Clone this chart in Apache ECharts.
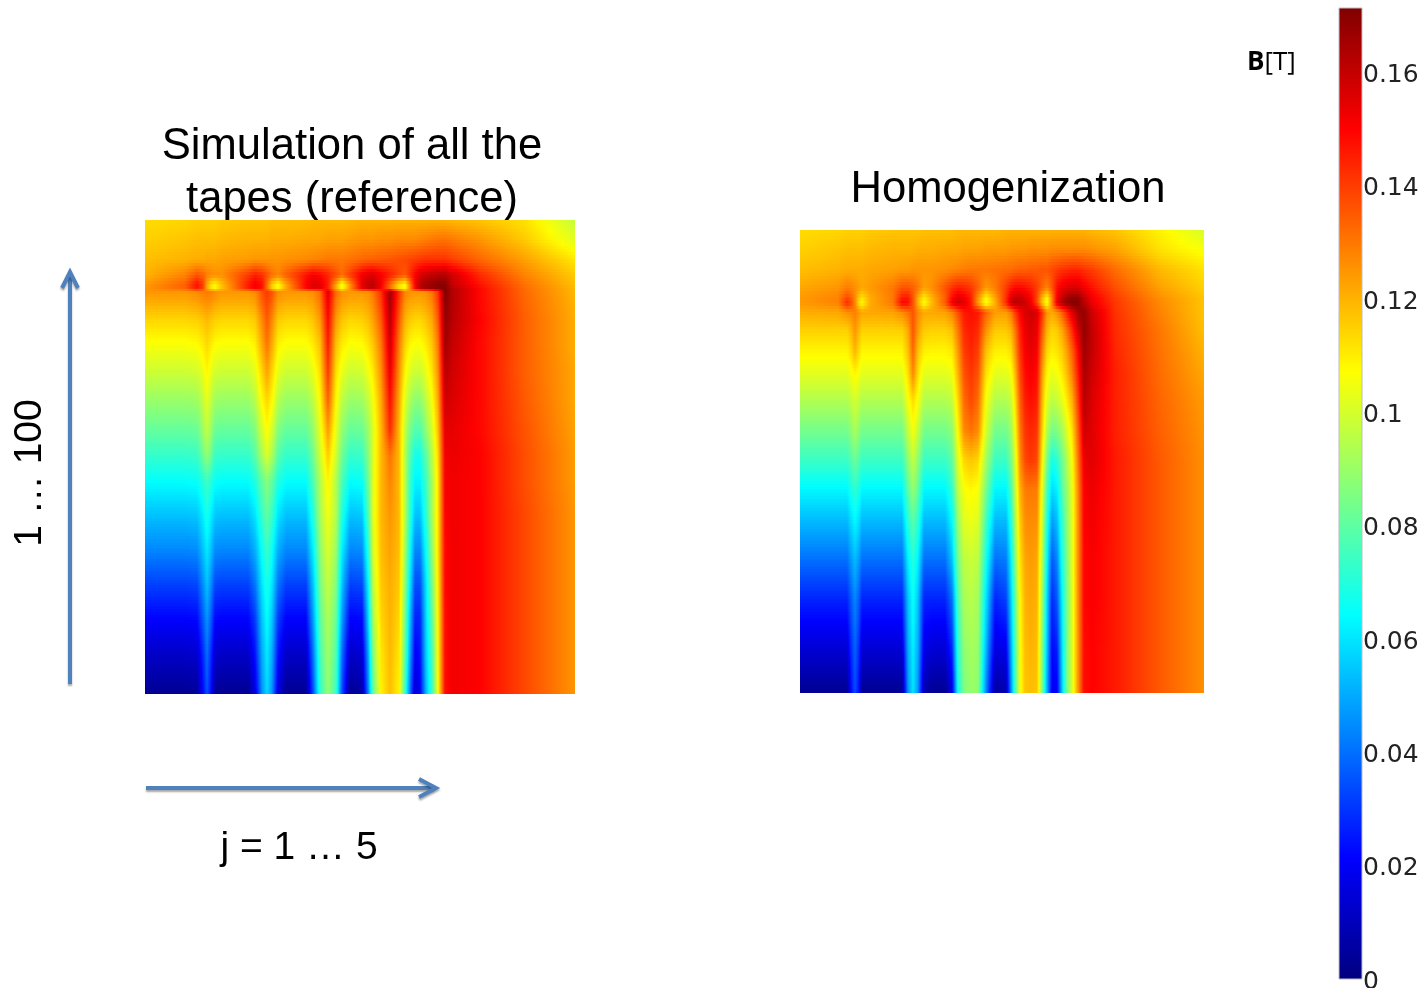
<!DOCTYPE html>
<html><head><meta charset="utf-8">
<style>html,body{margin:0;padding:0;background:#fff;overflow:hidden}#c{width:1427px;height:988px}</style>
<script src="https://cdn.jsdelivr.net/npm/echarts@6/dist/echarts.min.js"></script>
</head><body><div id="c"></div>
<script>
// Field magnitude B, in mT, read at the nodes of each panel's grid.
const xNodesA = [0,40,52,58,62,66,70,77,103,110,117,122,127,133,141,161,168,175,183,191,197,205,217,223,228,236,245,254,260,265,270,275,281,287,293,300,307,335,380,430];
const yNodesA = [0,20,40,55,65,69,71,80,100,122,150,180,210,235,260,295,330,365,397,435,474];
const fieldA = [
[113,114,115,115,115,115,115,116,117,117,117,117,118,118,118,118,119,119,119,119,119,119,120,120,120,120,120,120,120,120,120,120,120,120,120,120,119,117,112,97],
[115,117,118,118,118,118,118,119,120,120,120,120,121,121,121,122,122,122,123,123,123,124,125,125,125,126,126,127,127,127,127,128,129,130,131,131,130,125,116,102],
[118,120,121,121,122,122,122,123,124,125,125,125,125,125,126,127,128,129,130,130,130,131,133,134,134,135,136,137,138,139,140,141,142,142,142,142,140,133,123,111],
[120,128,136,133,129,127,126,126,140,145,142,137,131,128,134,147,151,149,144,137,132,140,152,155,156,151,145,138,135,142,150,156,159,161,162,163,158,143,128,116],
[124,134,148,140,122,112,108,118,146,152,148,132,115,106,122,150,156,155,145,122,104,125,154,160,161,152,132,112,106,128,150,162,166,168,170,170,160,147,131,118],
[125,133,145,138,122,112,108,118,144,150,146,132,116,108,122,148,154,153,144,122,106,126,152,158,159,150,132,114,108,128,148,160,164,166,168,171,163,149,132,119],
[125,125,127,129,130,129,127,125,125,127,136,141,136,127,125,125,126,132,155,132,126,125,125,126,130,142,167,142,128,126,125,125,126,130,142,171,163,149,132,119],
[122,122,124,126,127,126,124,122,122,124,134,139,134,124,122,122,124,130,153,130,124,122,122,124,128,140,165,140,126,123,122,122,124,128,140,170,163,149,133,120],
[114,114,115,117,119,117,115,114,114,116,127,135,127,116,114,114,117,124,149,124,117,114,115,118,123,135,162,135,120,116,114,114,117,122,135,168,162,150,134,121],
[107,107,108,111,114,111,108,107,107,110,122,131,122,110,107,107,111,118,146,118,111,107,108,112,117,130,158,130,115,109,107,107,111,117,130,166,160,149,134,121],
[99,99,100,104,109,104,100,99,99,103,115,123,115,103,99,99,104,113,141,113,104,99,100,105,111,126,154,126,109,102,99,99,104,112,126,162,158,149,134,122],
[90,90,91,97,103,97,91,90,90,95,108,114,108,95,90,90,96,108,134,108,96,90,91,97,105,122,148,122,102,93,88,88,96,106,122,158,156,149,135,122],
[81,81,82,90,97,90,82,81,81,86,100,107,100,86,81,81,89,103,124,103,89,81,82,90,101,119,143,119,97,84,78,78,88,100,118,154,154,149,136,123],
[73,73,74,83,89,83,74,73,73,79,93,101,93,79,73,73,83,99,116,99,83,73,74,86,101,119,131,119,95,78,68,68,80,95,114,152,153,150,137,124],
[65,65,66,71,75,71,66,65,65,70,81,87,81,70,65,65,77,94,109,94,77,65,66,82,102,119,128,119,95,74,63,63,75,92,112,151,152,150,137,124],
[54,54,55,62,68,62,55,54,54,60,74,80,74,60,54,54,70,92,105,94,70,54,55,77,102,119,125,119,95,72,54,54,72,92,112,150,152,150,138,125],
[44,44,45,54,61,54,45,44,44,51,66,74,66,51,44,44,62,88,101,90,62,44,45,70,100,118,123,118,92,66,44,44,66,88,112,149,152,150,138,125],
[32,32,33,45,54,45,33,32,32,41,60,69,60,41,32,32,54,84,97,86,54,32,33,62,96,116,121,116,88,60,34,34,60,84,110,149,152,150,138,125],
[22,22,23,37,47,37,23,22,22,32,55,65,55,32,22,22,48,80,94,82,48,22,23,56,92,114,120,114,84,54,27,28,58,80,109,148,152,150,138,125],
[12,12,13,28,40,28,13,12,12,24,50,61,50,24,12,12,40,76,91,78,40,12,14,48,86,111,119,111,80,48,20,24,56,76,108,148,152,150,138,125],
[3,3,4,22,35,22,4,3,3,16,46,58,46,16,3,3,34,72,89,74,34,3,6,42,80,109,118,109,74,40,13,20,52,74,107,148,152,150,138,125]
];
const xNodesB = [0,38,47,51,55,59,62,70,93,102,108,113,118,124,132,145,152,158,164,171,178,186,195,206,211,215,220,225,231,237,242,247,252,257,262,267,272,278,284,292,315,360,404];
const yNodesB = [0,20,40,58,68,73,82,100,120,145,170,200,230,260,290,330,370,420,463];
const fieldB = [
[113,114,115,115,115,115,115,116,117,117,117,117,117,118,118,118,118,119,119,119,119,119,119,120,120,120,120,120,120,120,120,120,120,120,120,120,120,120,120,119,117,109,100],
[115,117,118,118,118,118,118,119,120,120,120,120,121,121,121,122,122,122,123,123,123,124,124,124,125,125,125,125,126,126,126,126,127,127,127,127,127,127,127,126,123,112,106],
[118,120,121,121,121,121,121,122,123,124,124,125,125,125,125,126,127,128,129,130,130,130,131,132,132,133,134,134,135,135,136,136,138,140,142,143,144,144,142,140,132,119,112],
[122,125,129,128,126,124,122,124,130,136,136,134,130,123,126,136,142,145,144,141,134,124,129,140,146,149,149,148,145,140,133,128,136,148,153,155,156,156,152,147,137,123,115],
[124,128,138,134,127,116,112,121,130,145,146,136,121,110,120,134,148,155,152,145,126,108,122,142,155,159,159,156,150,138,120,108,128,150,160,165,168,168,160,152,140,126,117],
[124,128,143,138,128,112,108,121,130,150,148,136,120,106,119,135,152,158,155,146,124,105,120,143,158,162,161,158,152,138,118,105,128,154,163,168,171,170,162,153,141,127,117],
[121,122,126,127,129,125,122,122,123,127,131,136,127,122,122,123,128,137,146,148,146,134,124,124,130,140,150,156,158,156,142,125,122,126,134,145,155,165,168,158,142,128,117],
[115,115,115,119,125,119,115,115,115,115,122,136,124,116,115,115,118,130,143,146,143,126,116,116,120,130,145,153,156,153,136,120,114,116,122,132,143,158,168,160,143,130,118],
[109,109,109,113,120,113,109,109,109,109,118,133,118,110,109,109,111,125,140,144,140,118,110,110,113,125,142,151,154,151,130,114,110,112,116,124,134,150,166,160,144,131,120],
[102,102,102,105,108,105,102,102,102,102,112,127,112,102,102,102,104,120,136,141,136,112,102,102,105,118,138,148,151,148,124,108,103,105,110,118,128,145,164,158,145,132,122],
[94,94,94,97,100,97,94,94,94,94,106,113,106,94,94,94,97,114,132,138,132,106,94,94,98,112,134,145,148,145,120,102,96,98,103,111,120,140,162,156,145,133,124],
[84,84,84,88,93,88,84,84,84,84,97,106,97,84,84,84,88,108,127,131,127,100,84,84,90,106,130,141,144,141,116,94,84,86,92,102,112,134,158,155,145,134,125],
[74,74,74,78,82,78,74,74,74,74,88,97,88,74,74,74,80,102,114,117,114,92,74,74,84,100,126,138,141,138,110,84,68,72,82,94,106,130,153,155,146,135,126],
[63,63,63,68,72,68,63,63,63,63,80,89,80,63,63,63,72,96,106,108,106,84,63,63,76,96,120,129,130,129,104,76,58,62,78,90,103,127,150,153,146,135,126],
[53,53,53,59,64,59,53,53,53,53,72,79,72,53,53,53,64,90,102,104,102,76,53,53,70,92,116,126,127,126,100,70,48,54,72,88,102,126,150,152,146,135,126],
[40,40,40,47,53,47,40,40,40,40,62,71,62,40,40,40,54,84,96,98,96,68,40,42,62,86,112,122,124,122,96,64,36,44,68,86,102,126,149,151,146,135,126],
[27,27,27,36,44,36,27,27,27,27,54,66,54,27,27,27,40,78,92,95,92,60,27,32,56,80,108,120,122,120,92,58,28,36,62,85,101,126,149,151,146,135,126],
[14,14,14,28,38,28,14,14,14,14,50,62,50,18,14,14,28,72,88,92,90,52,16,18,50,76,106,118,120,118,88,54,22,26,58,85,101,125,148,150,146,135,126],
[3,3,3,22,34,22,3,3,3,3,46,60,46,8,3,3,16,68,85,90,88,44,5,8,45,75,105,117,118,117,86,50,20,20,55,85,100,125,148,150,146,135,126]
];
const colorbarMax = 0.1714;  // T
const colorbarStep = 0.02;   // T
const jet = ['#000080','#0000ff','#0080ff','#00ffff','#80ff80','#ffff00','#ff8000','#ff0000','#800000'];

const colorOf = v => echarts.color.lerp(Math.max(0, Math.min(1, v / (colorbarMax * 1000))), jet);

function quads(xs, ys, f) {
  const out = [];
  for (let r = 0; r < ys.length - 1; r++) for (let c = 0; c < xs.length - 1; c++) {
    out.push([xs[c], xs[c + 1], ys[r], ys[r + 1], f[r][c], f[r][c + 1], f[r + 1][c], f[r + 1][c + 1]]);
  }
  return out;
}
// Shades one quad between its four read values.
function shadeQuad(params, api) {
  const p0 = api.coord([api.value(0), api.value(2)]);
  const p1 = api.coord([api.value(1), api.value(3)]);
  const x0 = Math.round(p0[0]), x1 = Math.round(p1[0]), y0 = Math.round(p0[1]), y1 = Math.round(p1[1]);
  const a = api.value(4), b = api.value(5), c = api.value(6), d = api.value(7);
  const children = [];
  for (let y = y0; y < y1; y += 3) {
    const yEnd = Math.min(y + 3, y1);
    const t = (y + (yEnd - y) / 2 - y0) / (y1 - y0);
    const l = a + (c - a) * t, r = b + (d - b) * t;
    const stops = [0, 0.25, 0.5, 0.75, 1].map(o => ({ offset: o, color: colorOf(l + (r - l) * o) }));
    children.push({
      type: 'rect',
      shape: { x: x0, y: y, width: x1 - x0, height: yEnd - y },
      style: { fill: new echarts.graphic.LinearGradient(0, 0, 1, 0, stops) }
    });
  }
  return { type: 'group', children };
}
function colorbarItem(params, api) {
  const p0 = api.coord([0, api.value(1)]);
  const p1 = api.coord([1, api.value(0)]);
  const stops = jet.map((col, i) => ({ offset: 1 - i / (jet.length - 1), color: col })).reverse();
  return {
    type: 'rect',
    shape: { x: p0[0], y: p0[1], width: p1[0] - p0[0], height: p1[1] - p0[1] },
    style: { fill: new echarts.graphic.LinearGradient(0, 0, 0, 1, stops), stroke: '#bdbdc4', lineWidth: 1 }
  };
}
const ARIAL = '"Liberation Sans", Arial, sans-serif';
const txt = (text, x, y, size, extra) => Object.assign({
  type: 'text', x, y, z: 0,
  style: { text, font: size + 'px ' + ARIAL, fill: '#000', textAlign: 'center', textVerticalAlign: 'middle' }
}, extra || {});
const arrowStyle = { stroke: '#4f81bd', lineWidth: 4, fill: 'none', shadowColor: 'rgba(0,0,0,0.35)', shadowBlur: 2, shadowOffsetY: 2 };
const poly = pts => ({ type: 'polyline', z: 1, shape: { points: pts }, style: arrowStyle });
const hiddenX = (i, max) => ({ type: 'value', gridIndex: i, min: 0, max, show: false });

const chart = echarts.init(document.getElementById('c'), null, { renderer: 'canvas', width: 1427, height: 988 });
chart.setOption({
  animation: false,
  backgroundColor: '#fff',
  grid: [
    { left: 145, top: 220, width: 430, height: 474, outerBoundsMode: 'none' },
    { left: 800, top: 230, width: 404, height: 463, outerBoundsMode: 'none' },
    { left: 1339, top: 8, width: 23, height: 971, outerBoundsMode: 'none' }
  ],
  xAxis: [hiddenX(0, 430), hiddenX(1, 404), hiddenX(2, 1)],
  yAxis: [
    { type: 'value', gridIndex: 0, min: 0, max: 474, inverse: true, show: false },
    { type: 'value', gridIndex: 1, min: 0, max: 463, inverse: true, show: false },
    { type: 'value', gridIndex: 2, min: 0, max: colorbarMax, interval: colorbarStep, position: 'right',
      axisLine: { show: false }, axisTick: { show: false }, splitLine: { show: false },
      axisLabel: { showMaxLabel: false, margin: 1, fontFamily: '"DejaVu Sans"', fontSize: 25, color: '#222', hideOverlap: false, verticalAlign: 'top', lineHeight: 6 } }
  ],
  series: [
    { type: 'custom', xAxisIndex: 0, yAxisIndex: 0, renderItem: shadeQuad, clip: false, silent: true,
      encode: { x: [0, 1], y: [2, 3] }, data: quads(xNodesA, yNodesA, fieldA), z: 2 },
    { type: 'custom', xAxisIndex: 1, yAxisIndex: 1, renderItem: shadeQuad, clip: false, silent: true,
      encode: { x: [0, 1], y: [2, 3] }, data: quads(xNodesB, yNodesB, fieldB), z: 2 },
    { type: 'custom', xAxisIndex: 2, yAxisIndex: 2, renderItem: colorbarItem, clip: false, silent: true,
      encode: { y: [0, 1] }, data: [[0, colorbarMax]], z: 2 }
  ],
  graphic: { elements: [
    txt('Simulation of all the', 352, 147, 43.6),
    txt('tapes (reference)', 352, 200, 43.6),
    txt('Homogenization', 1008, 190, 43.6),
    txt('j = 1 … 5', 299, 848, 39),
    txt('1 … 100', 30, 473, 39, { rotation: Math.PI / 2 }),
    { type: 'text', x: 1247, y: 63, z: 1, style: {
        text: '{b|B}{n|[T]}', textAlign: 'left', textVerticalAlign: 'middle',
        rich: { b: { font: 'bold 26px "Open Sans"', fill: '#000' }, n: { font: '26px "Open Sans"', fill: '#000' } } } },
    poly([[70, 684], [70, 273]]),
    poly([[62, 288], [70, 272], [78, 288]]),
    poly([[146, 788], [434, 788]]),
    poly([[419, 779], [436, 788], [419, 797]])
  ] }
});
</script></body></html>
